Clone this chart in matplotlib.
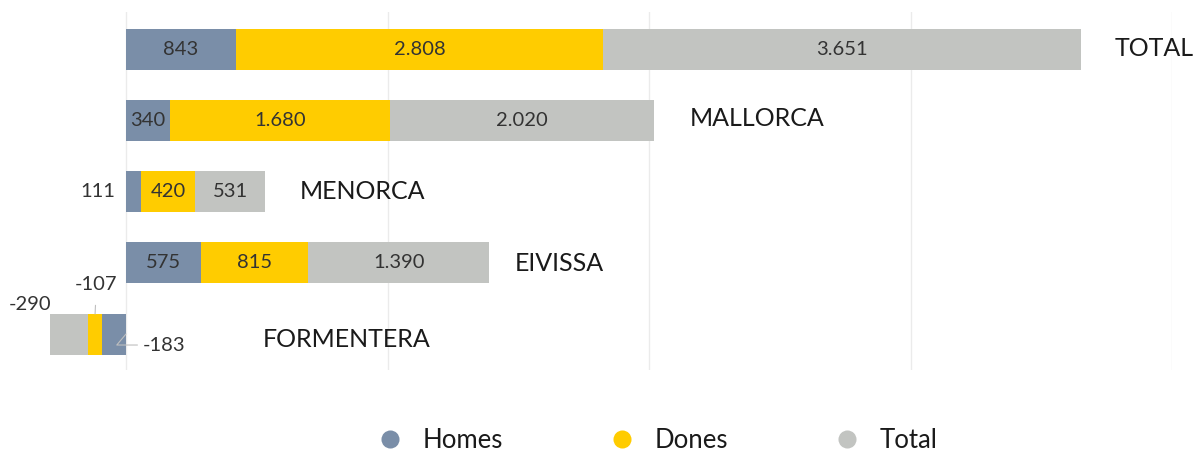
import matplotlib
matplotlib.use("Agg")
import matplotlib.pyplot as plt
from matplotlib.lines import Line2D
import numpy as np

categories = ["TOTAL", "MALLORCA", "MENORCA", "EIVISSA", "FORMENTERA"]
homes = [843, 340, 111, 575, -183]
dones = [2808, 1680, 420, 815, -107]
total = [3651, 2020, 531, 1390, -290]
series_names = ["Homes", "Dones", "Total"]

colors = ["#7A8EA8", "#FFCC00", "#C2C4C1"]
text_color = "#333333"
plt.rcParams['font.family'] = ['Lato', 'DejaVu Sans']

def fmt(v):
    return f"{v:,}".replace(",", ".")

W, H = 1193, 451
fig = plt.figure(figsize=(W / 100, H / 100), dpi=100)
ax_left, ax_right = 40, 1172
ax_top, ax_bot = 12, 370
ax = fig.add_axes([ax_left / W, 1 - ax_bot / H, (ax_right - ax_left) / W, (ax_bot - ax_top) / H])

xmax = 8000
px_per_unit = (ax_right - 126) / xmax
xmin = -(126 - ax_left) / px_per_unit
ax.set_xlim(xmin, xmax)
ax.set_ylim(4.505, -0.52)

for gx in range(0, xmax + 1, 2000):
    ax.axvline(gx, color="#EBEBEB", lw=1, zorder=0)

y = np.arange(len(categories))
data = [homes, dones, total]
left = np.zeros(len(categories))
bars = []
for vals, c in zip(data, colors):
    v = np.array(vals, dtype=float)
    ax.barh(y, v, left=left, height=0.575, color=c, edgecolor="none", zorder=2)
    bars.append((v, left.copy()))
    left = left + v

LS = 14.5
# inside labels for positive rows
for i in range(len(categories)):
    for k, (v, l) in enumerate(bars):
        val = v[i]
        if val <= 0:
            continue
        center = l[i] + val / 2
        if categories[i] == "MENORCA" and k == 0:
            ax.annotate(fmt(int(val)), xy=(0, i), xytext=(-8, 0), textcoords="offset points",
                        ha="right", va="center", fontsize=LS, color=text_color)
        else:
            ax.text(center, i, fmt(int(val)), ha="center", va="center", fontsize=LS, color=text_color, zorder=3)

# category labels right of bars
name_offsets = [34, 36, 35, 25, 137]
name_dy = [1, 2, 0, -1, -5]
for i, name in enumerate(categories):
    end = max(0, left[i])
    ax.annotate(name, xy=(end, i), xytext=(name_offsets[i] * 0.72, name_dy[i] * 0.72), textcoords="offset points",
                ha="left", va="center", fontsize=18, color="#1a1a1a")

# Formentera labels with leader lines
fi = categories.index("FORMENTERA")
hv, hl = bars[0][0][fi], bars[0][1][fi]
dv, dl = bars[1][0][fi], bars[1][1][fi]
tv, tl = bars[2][0][fi], bars[2][1][fi]
lc = "#BFBFBF"
ax.annotate(fmt(int(hv)), xy=(hl, fi), xytext=(17 * 0.72, -11 * 0.72), textcoords="offset points",
            ha="left", va="center", fontsize=LS, color=text_color,
            arrowprops=dict(arrowstyle="-", color=lc, lw=0.8, shrinkA=2, shrinkB=0,
                            connectionstyle="angle,angleA=0,angleB=50"))
ax.annotate(fmt(int(dv)), xy=(dl + dv / 2, fi - 0.28), xytext=(1, 27 * 0.72 + 2), textcoords="offset points",
            ha="center", va="center", fontsize=LS, color=text_color,
            arrowprops=dict(arrowstyle="-", color=lc, lw=0.8, shrinkA=7, shrinkB=0))
ax.annotate(fmt(int(tv)), xy=(tl + tv, fi - 0.28), xytext=(-20 * 0.72, 10 * 0.72), textcoords="offset points",
            ha="center", va="center", fontsize=LS, color=text_color)

for s in ax.spines.values():
    s.set_visible(False)
ax.set_xticks([])
ax.set_yticks([])

handles = [Line2D([0], [0], marker="o", color="none", markerfacecolor=c, markeredgecolor="none",
                  markersize=13) for c in colors]
fig.legend(handles, series_names, loc="center", bbox_to_anchor=(0.551, 1 - 440 / H), ncol=3,
           frameon=False, fontsize=18.5, handletextpad=0.8, columnspacing=4.1, handlelength=1.0,
           labelcolor="#1a1a1a")

fig.savefig("out.png", dpi=100)
